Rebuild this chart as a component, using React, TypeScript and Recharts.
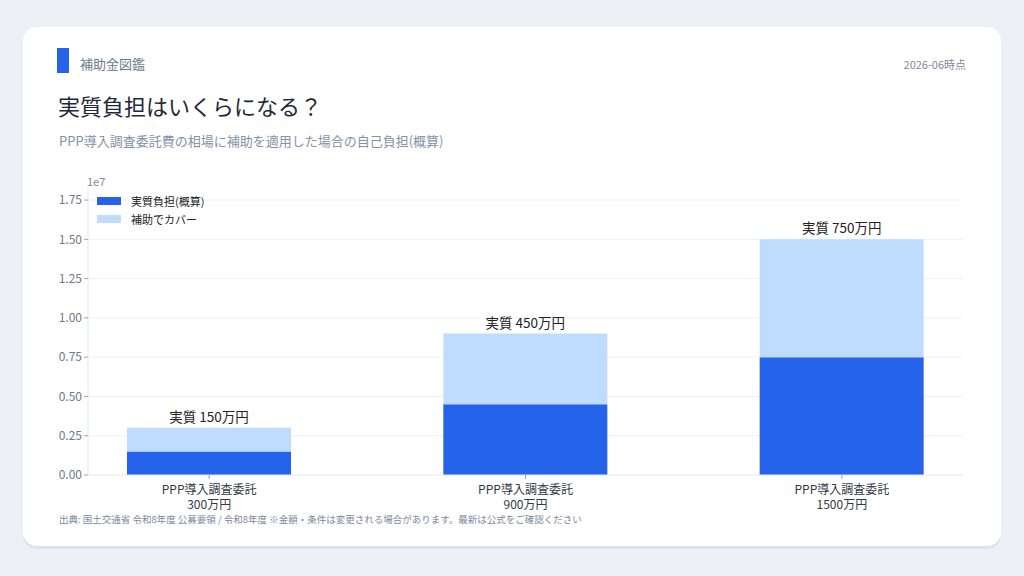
import React from 'react';
import { BarChart, Bar, XAxis, YAxis, CartesianGrid, LabelList } from 'recharts';

const categories = ['PPP導入調査委託', 'PPP導入調査委託', 'PPP導入調査委託'];
const totalLabels = ['300万円', '900万円', '1500万円'];
const selfBurden = [1500000, 4500000, 7500000];
const subsidyCover = [1500000, 4500000, 7500000];
const yTicks = [0, 2500000, 5000000, 7500000, 10000000, 12500000, 15000000, 17500000];

const FONT = '"Noto Sans CJK JP", "Noto Sans", sans-serif';
const DARK = '#2563eb';
const LIGHT = '#bfdbfe';

const data = categories.map((c, i) => ({
  idx: i,
  name: c,
  total: totalLabels[i],
  self: selfBurden[i],
  cover: subsidyCover[i],
  label: `実質 ${selfBurden[i] / 10000}万円`
}));

const XTick = (props: any) => {
  const { x, y, payload } = props;
  const i = payload.value as number;
  return (
    <g transform={`translate(${x},${y})`}>
      <text textAnchor="middle" fill="#333a45" fontSize={12} fontFamily={FONT}>
        <tspan x={0} dy={13}>{categories[i]}</tspan>
        <tspan x={0} dy={15}>{totalLabels[i]}</tspan>
      </text>
    </g>
  );
};

const LegendBox = () => (
  <div style={{ position: 'absolute', left: 97, top: 192, fontFamily: FONT, fontSize: 11, color: '#222' }}>
    {[
      { c: DARK, t: '実質負担(概算)' },
      { c: LIGHT, t: '補助でカバー' }
    ].map((e) => (
      <div key={e.t} style={{ display: 'flex', alignItems: 'center', height: 18 }}>
        <span style={{ width: 24, height: 8, background: e.c, marginRight: 10 }} />
        <span>{e.t}</span>
      </div>
    ))}
  </div>
);

const App = () => {
  return (
    <div
      style={{
        position: 'fixed',
        left: 0,
        top: 0,
        width: 1024,
        height: 576,
        background: '#edf1f6',
        fontFamily: FONT,
        overflow: 'hidden'
      }}
    >
      <div
        style={{
          position: 'absolute',
          left: 23,
          top: 27,
          width: 978,
          height: 519,
          background: '#fff',
          borderRadius: 14,
          boxShadow: '0 3px 0 #dde3eb'
        }}
      />
      <div style={{ position: 'absolute', left: 57, top: 48, width: 12, height: 25, background: DARK }} />
      <div style={{ position: 'absolute', left: 80, top: 55, fontSize: 13, color: '#6b7890', lineHeight: '18px' }}>
        補助金図鑑
      </div>
      <div style={{ position: 'absolute', right: 58, top: 56, fontSize: 11, color: '#7d889b', lineHeight: '16px' }}>
        2026-06時点
      </div>
      <div style={{ position: 'absolute', left: 58, top: 90, fontSize: 22, color: '#1f2937', lineHeight: '30px' }}>
        実質負担はいくらになる？
      </div>
      <div style={{ position: 'absolute', left: 59, top: 131, fontSize: 13, color: '#8391a8', lineHeight: '20px' }}>
        PPP導入調査委託費の相場に補助を適用した場合の自己負担(概算)
      </div>
      <div style={{ position: 'absolute', left: 87, top: 173, fontSize: 11, color: '#7d889b', lineHeight: '16px' }}>
        1e7
      </div>
      <div style={{ position: 'absolute', left: 59, top: 512, fontSize: 9.5, color: '#7d889b', lineHeight: '14px' }}>
        出典: 国土交通省 令和8年度 公募要領 / 令和8年度 ※金額・条件は変更される場合があります。最新は公式をご確認ください
      </div>

      <div style={{ position: 'absolute', left: 0, top: 0 }}>
        <BarChart width={1024} height={576} data={data} margin={{ top: 187, right: 61, bottom: 61, left: 28 }}>
          <CartesianGrid horizontal vertical={false} horizontalValues={yTicks.slice(1)} stroke="#eef0f4" />
          <XAxis
            type="number"
            dataKey="idx"
            domain={[-0.383, 2.383]}
            ticks={[0, 1, 2]}
            allowDataOverflow
            height={40}
            tick={<XTick />}
            tickSize={4}
            tickLine={{ stroke: '#9aa3b2' }}
            axisLine={{ stroke: '#e3e8ef' }}
          />
          <YAxis
            width={60}
            domain={[0, 18330000]}
            ticks={yTicks}
            allowDataOverflow
            tickFormatter={(v: number) => (v / 1e7).toFixed(2)}
            tick={{ fontSize: 12, fill: '#6b7890', fontFamily: FONT }}
            tickSize={4}
            tickLine={{ stroke: '#9aa3b2' }}
            axisLine={{ stroke: '#e3e8ef' }}
          />
          <Bar dataKey="self" stackId="a" fill={DARK} barSize={164} isAnimationActive={false} />
          <Bar dataKey="cover" stackId="a" fill={LIGHT} barSize={164} isAnimationActive={false}>
            <LabelList
              dataKey="label"
              position="top"
              offset={6}
              fill="#222"
              fontSize={13.5}
              fontFamily={FONT}
            />
          </Bar>
        </BarChart>
      </div>
      <LegendBox />
    </div>
  );
};

export default App;
